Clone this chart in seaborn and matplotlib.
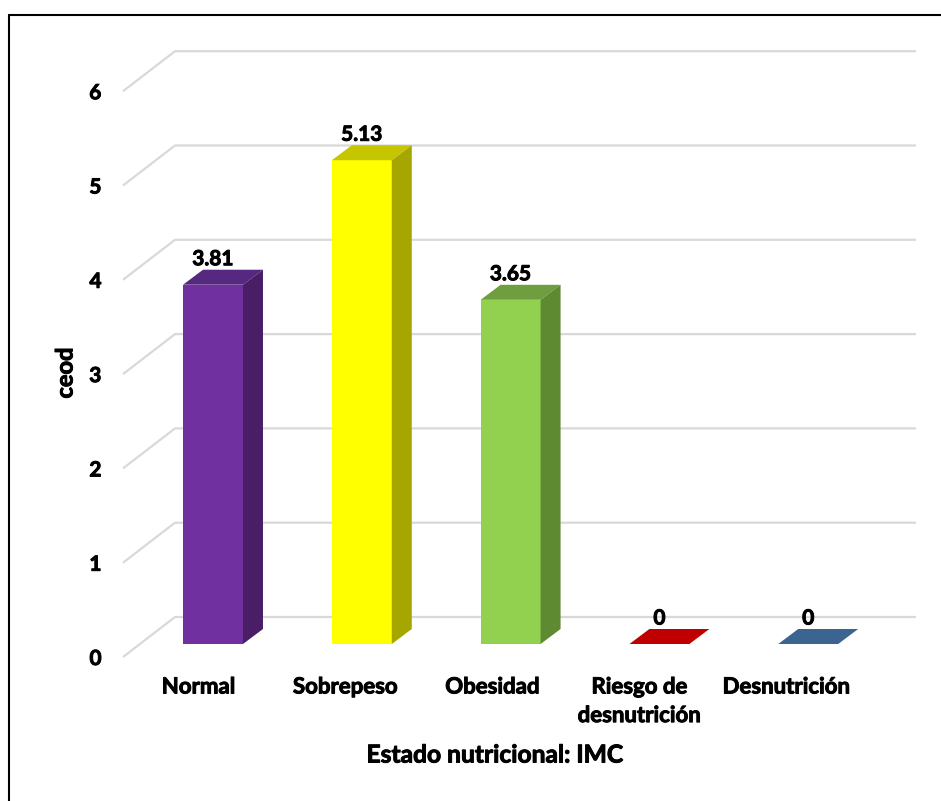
import matplotlib
matplotlib.use("Agg")
import matplotlib.pyplot as plt
from matplotlib.lines import Line2D
from matplotlib.patches import Polygon
from matplotlib.transforms import IdentityTransform, ScaledTranslation
import matplotlib.patheffects as pe
import seaborn as sns
import pandas as pd

# ---- data ----
categories = ["Normal", "Sobrepeso", "Obesidad", "Riesgo de\ndesnutrición", "Desnutrición"]
values = [3.81, 5.13, 3.65, 0, 0]
value_labels = ["3.81", "5.13", "3.65", "0", "0"]
yticks = [0, 1, 2, 3, 4, 5, 6]
front_colors = ["#7030A0", "#FFFF00", "#92D050", "#C00000", "#3C6491"]
side_colors = ["#4A1E66", "#A6A600", "#5E8A32", "#8A0000", "#2A4868"]
top_colors = ["#56287F", "#C6C600", "#6E9E40", "#C00000", "#3C6491"]

sns.set_theme(style="white")
plt.rcParams["font.family"] = ["Lato", "DejaVu Sans"]
plt.rcParams["font.weight"] = "bold"

DPI = 100
fig = plt.figure(figsize=(9.41, 8.01), dpi=DPI)
W, H = 941, 801
thick = [pe.withStroke(linewidth=0.7, foreground="black")]

# axes in pixel geometry (front plane)
ax_l, ax_r, ax_top, ax_bot = 123, 916, 40, 657
ax = fig.add_axes([ax_l / W, (H - ax_bot) / H, (ax_r - ax_l) / W, (ax_bot - ax_top) / H])
ax.set_facecolor("none")

df = pd.DataFrame({"cat": categories, "val": values})
sns.barplot(data=df, x="cat", y="val", hue="cat", palette=front_colors,
            saturation=1, width=0.403, legend=False, ax=ax, linewidth=0,
            zorder=2, err_kws={"linewidth": 0})

spacing = 148.8
scale = 94.3
ax.set_xlim((ax_l - 213) / spacing, (ax_r - 213) / spacing)
ax.set_ylim(-(ax_bot - 644) / scale, (644 - ax_top) / scale)

for s in ax.spines.values():
    s.set_visible(False)
ax.grid(False)

# depth offsets (pixels)
DX, DY = 20, 15          # bar depth
FRONT_DOWN = 13          # front wall edge below bar plane
BACK_UP = 27             # back wall above bar plane
WALL_DX = 52

grid_color = "#D9D9D9"
x0_lim, x1_lim = ax.get_xlim()
for v in yticks:
    p0 = ax.transData.transform((x0_lim, v))
    p1 = ax.transData.transform((x1_lim, v))
    front = (p0[0], p0[1] - FRONT_DOWN)
    back = (p0[0] + WALL_DX, p0[1] + BACK_UP)
    end = (p1[0], p1[1] + BACK_UP)
    ln = Line2D([front[0], back[0], end[0]], [front[1], back[1], end[1]],
                transform=IdentityTransform(), color=grid_color, lw=1.6,
                zorder=0.5, clip_on=False, solid_capstyle="butt")
    ax.add_artist(ln)

# 3D faces and labels
patches = sorted([p for p in ax.patches], key=lambda p: p.get_x())
for i, p in enumerate(patches):
    bx, bw, bh = p.get_x(), p.get_width(), p.get_height()
    fr = ax.transData.transform((bx + bw, 0))
    tl = ax.transData.transform((bx, bh))
    tr = ax.transData.transform((bx + bw, bh))
    top = Polygon([tl, tr, (tr[0] + DX, tr[1] + DY), (tl[0] + DX, tl[1] + DY)],
                  closed=True, transform=IdentityTransform(), facecolor=top_colors[i],
                  edgecolor="none", zorder=2.1, clip_on=False)
    ax.add_artist(top)
    if bh > 0:
        side = Polygon([fr, tr, (tr[0] + DX, tr[1] + DY), (fr[0] + DX, fr[1] + DY)],
                       closed=True, transform=IdentityTransform(), facecolor=side_colors[i],
                       edgecolor="none", zorder=2.1, clip_on=False)
        ax.add_artist(side)
    ax.annotate(value_labels[i], xy=(bx + bw / 2, bh), xytext=(0, 25.5 * 72 / DPI),
                textcoords="offset points", ha="center", va="center",
                fontsize=15, fontweight="bold", color="black", zorder=4,
                path_effects=thick)

# ticks
ax.set_yticks(yticks)
ax.set_yticklabels([str(t) for t in yticks])
ax.set_xticks(range(len(categories)))
ax.set_xticklabels(categories, linespacing=1.45)
ax.tick_params(axis="y", length=0, pad=15.5, labelsize=15, labelcolor="black")
ax.tick_params(axis="x", length=0, pad=14, labelsize=16, labelcolor="black")
for lab in ax.get_yticklabels():
    lab.set_fontweight("bold")
    lab.set_path_effects(thick)
    lab.set_transform(lab.get_transform() + ScaledTranslation(0, -FRONT_DOWN / DPI, fig.dpi_scale_trans))
for i, lab in enumerate(ax.get_xticklabels()):
    lab.set_fontweight("bold")
    lab.set_linespacing(1.45)
    lab.set_path_effects(thick)
    shift = -(14.5 + 1.75 * i)
    lab.set_transform(lab.get_transform() + ScaledTranslation(shift / DPI, 0, fig.dpi_scale_trans))

ax.set_xlabel("Estado nutricional: IMC", fontsize=17.7, fontweight="bold", color="black")
ax.xaxis.label.set_va("center")
ax.xaxis.label.set_path_effects(thick)
ax.xaxis.set_label_coords((495 - ax_l) / (ax_r - ax_l), (ax_bot - 755) / (ax_bot - ax_top))
ax.set_ylabel("ceod", fontsize=17, fontweight="bold", color="black")
ax.yaxis.label.set_va("center")
ax.yaxis.label.set_path_effects(thick)
ax.yaxis.set_label_coords((65 - ax_l) / (ax_r - ax_l), (ax_bot - 373) / (ax_bot - ax_top))

# outer frame (left and top edges visible)
fig.add_artist(Line2D([9 / W, 9 / W], [0, 1 - 15 / H], transform=fig.transFigure,
                      color="black", lw=1.5))
fig.add_artist(Line2D([9 / W, 1], [1 - 15 / H, 1 - 15 / H], transform=fig.transFigure,
                      color="black", lw=1.5))

fig.savefig("out.png", dpi=DPI)
